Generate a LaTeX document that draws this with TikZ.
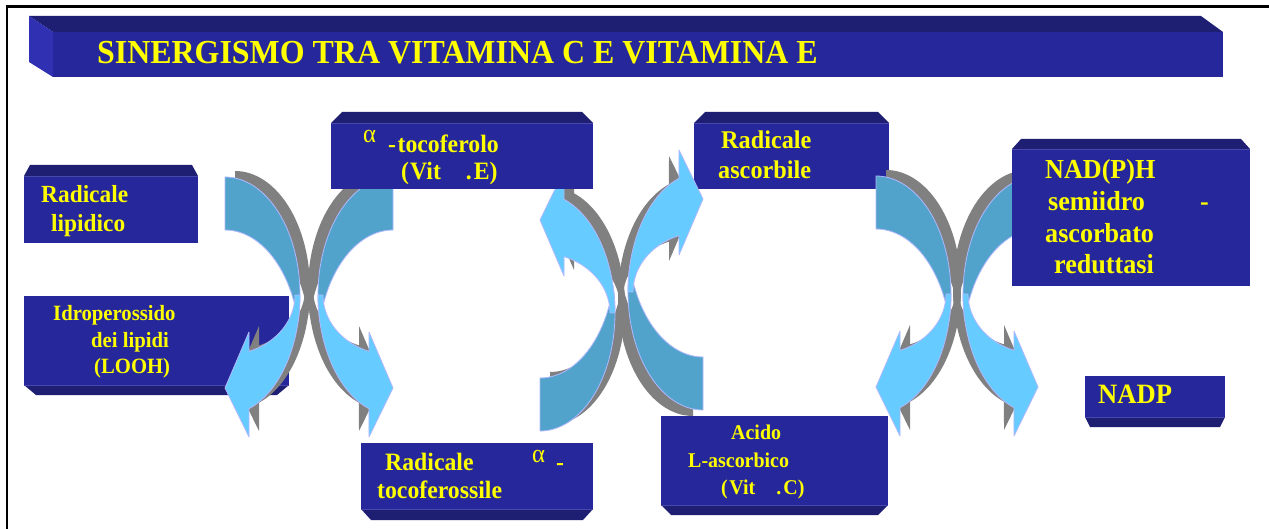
\documentclass[tikz,border=0pt]{standalone}
\usepackage{fontspec}
\setmainfont{Liberation Serif}[FakeStretch=0.95]
\definecolor{boxfront}{RGB}{38,39,154}
\definecolor{boxbevel}{RGB}{30,30,115}
\definecolor{boxside}{RGB}{48,48,178}
\definecolor{seamcol}{RGB}{72,72,172}
\definecolor{darkarr}{RGB}{82,163,204}
\definecolor{lightarr}{RGB}{102,204,255}
\definecolor{arredge}{RGB}{176,184,255}
\definecolor{shadowcol}{RGB}{128,128,128}
\definecolor{ytext}{RGB}{255,255,0}
\tikzset{
 txt/.style={anchor=base west, inner sep=0pt, text=ytext, font=\fontsize{#1}{#1}\selectfont\bfseries},
 greek/.style={anchor=base west, inner sep=0pt, text=ytext, font=\fontsize{#1}{#1}\selectfont\mdseries},
 arrdark/.style={fill=darkarr, draw=arredge, line width=0.8pt, line join=round},
 arrlight/.style={fill=lightarr, draw=arredge, line width=0.8pt, line join=round},
 arrshadow/.style={fill=shadowcol},
 seam/.style={draw=seamcol, line width=0.8pt},
}
% arrow parts in local coordinates (origin = tail x, middle y; y downwards)
\newcommand\backpart{(0,-118) -- plot[domain=-90:0,samples=40] ({75*cos(\x)},{118*sin(\x)}) -- plot[domain=0:13,samples=6] ({75*cos(\x)},{120*sin(\x)}) -- plot[domain=-12.7:-90,samples=40] ({75*cos(\x)},{53+118*sin(\x)}) -- cycle}
\newcommand\frontpart{(75,0) -- plot[domain=0:71.3,samples=40] ({75*cos(\x)},{120*sin(\x)}) -- (24,142) -- (0,93) -- (24,37) -- (24,56.4) -- plot[domain=69.94:0,samples=40] ({70*cos(\x)},{60*sin(\x)}) -- cycle}
\newcommand\arrshade[4]{\begin{scope}[shift={(#1,#2)}, xscale=#3, yscale=#4]
 \fill[arrshadow] \backpart; \fill[arrshadow] \frontpart; \end{scope}}
\newcommand\arrbody[4]{\begin{scope}[shift={(#1,#2)}, xscale=#3, yscale=#4]
 \filldraw[arrdark] \backpart; \filldraw[arrlight] \frontpart; \end{scope}}
% boxes: x1 y1 x2 y2 ybevel inset
\newcommand\bevelT[6]{\fill[boxbevel] (#1,#2) -- (#1+#6,#5) -- (#3-#6,#5) -- (#3,#2) -- cycle;
 \fill[boxfront] (#1,#2) rectangle (#3,#4); \draw[seam] (#1,#2) -- (#3,#2);}
\newcommand\bevelB[6]{\fill[boxbevel] (#1,#4) -- (#1+#6,#5) -- (#3-#6,#5) -- (#3,#4) -- cycle;
 \fill[boxfront] (#1,#2) rectangle (#3,#4); \draw[seam] (#1,#4) -- (#3,#4);}
\begin{document}
\begin{tikzpicture}[x=1pt,y=-1pt]
\useasboundingbox (0,0) rectangle (1269,529);
\fill[white] (0,0) rectangle (1269,529);
% frame
\draw[line width=2.5pt] (7,529) -- (7,6.5) -- (1269,6.5);
% title bar
\fill[boxbevel] (29,16) -- (1201,16) -- (1223,32) -- (53,32) -- cycle;
\fill[boxside] (29,16) -- (53,32) -- (53,77) -- (29,62) -- cycle;
\fill[boxfront] (53,32) rectangle (1223,77);
\node[txt=33.6] (title) at (97,64) {SINERGISMO TRA VITAMINA C E VITAMINA E};
% boxes below the arrows
\bevelT{24}{176}{198}{243}{165}{6}
\bevelB{24}{296}{289}{385}{395}{12}
\bevelT{694}{123}{889}{189}{112}{11}
\bevelB{1085}{376}{1225}{417}{427}{5}
\bevelB{361}{443}{593}{509}{520}{10}
\bevelB{661}{416}{888}{505}{515}{10}
% arrow shadows
\arrshade{235}{289}{1}{1}
\arrshade{383}{289}{-1}{1}
\arrshade{550}{307}{1}{-1}
\arrshade{693}{298}{-1}{-1}
\arrshade{886}{288}{1}{1}
\arrshade{1028}{288}{-1}{1}
% arrows
\arrbody{225}{295}{1}{1}
\arrbody{393}{295}{-1}{1}
\arrbody{540}{313}{1}{-1}
\arrbody{703}{292}{-1}{-1}
\arrbody{876}{294}{1}{1}
\arrbody{1038}{294}{-1}{1}
% boxes above the arrows
\bevelT{331}{123}{593}{189}{112}{11}
\bevelT{1012}{149}{1250}{286}{139}{9}
% texts
\node[txt=24.6] (b1a) at (41,203) {Radicale};
\node[txt=24.6] (b1b) at (51,232) {lipidico};
\node[txt=21.8] (b2a) at (53,320) {Idroperossido};
\node[txt=21.8] (b2b) at (91,347) {dei lipidi};
\node[txt=21.8] (b2c) at (94,373) {(LOOH)};
\node[greek=26] (b3g) at (363,143) {α};
\node[txt=25] (b3a) at (388,153) {-\kern1.5pt tocoferolo};
\node[txt=25] (b3b) at (401,180) {(\kern1pt Vit\hspace{25pt}.\kern2pt E)};
\node[txt=25.5] (b4a) at (721,149) {Radicale};
\node[txt=25.5] (b4b) at (718,179) {ascorbile};
\node[txt=27.5] (b5a) at (1045,179) {NAD(P)H};
\node[txt=27.5] (b5b) at (1048,211) {semiidro};
\node[txt=27.5] (b5h) at (1200,211) {-};
\node[txt=27.5] (b5c) at (1045,243) {ascorbato};
\node[txt=27.5] (b5d) at (1054,274) {reduttasi};
\node[txt=28] (b6a) at (1098,403) {NADP};
\node[txt=25] (b7a) at (385,470) {Radicale};
\node[greek=26] (b7g) at (532,462) {α};
\node[txt=25] (b7h) at (556,470) {-};
\node[txt=25] (b7b) at (377,498) {tocoferossile};
\node[txt=21] (b8a) at (731,439) {Acido};
\node[txt=21] (b8b) at (688,467) {L-ascorbico};
\node[txt=21] (b8c) at (721,494) {(\kern1.5pt Vit\hspace{21.3pt}.\kern2pt C)};
\end{tikzpicture}
\end{document}
